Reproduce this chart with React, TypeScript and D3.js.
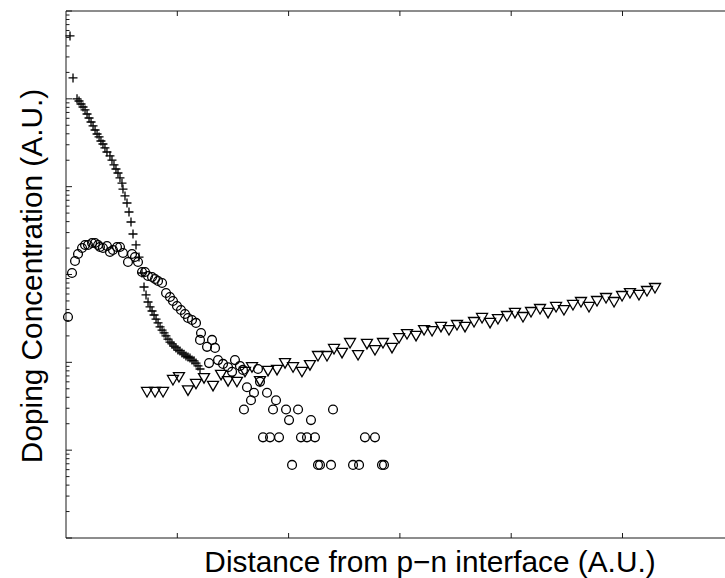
import React from "react";
import * as d3 from "d3";

const W = 725;
const H = 578;

// Series 1: "+" markers
const plusX = [0.036,0.063,0.099,0.117,0.135,0.153,0.171,0.189,0.207,0.225,0.243,0.261,0.279,0.297,0.314,0.332,0.350,0.368,0.395,0.413,0.431,0.449,0.467,0.485,0.503,0.512,0.530,0.548,0.566,0.584,0.602,0.629,0.656,0.683,0.701,0.719,0.737,0.755,0.773,0.791,0.809,0.827,0.845,0.863,0.881,0.898,0.916,0.934,0.952,0.970,0.988,1.006,1.024,1.042,1.060,1.078,1.096,1.114,1.132,1.150,1.168,1.186,1.204];
const plusY = [5.2e5,1.73e5,1.0e5,9.45e4,8.73e4,8.07e4,7.47e4,6.72e4,6.05e4,5.45e4,4.91e4,4.42e4,3.98e4,3.68e4,3.31e4,3.06e4,2.76e4,2.48e4,2.24e4,2.01e4,1.77e4,1.59e4,1.43e4,1.26e4,1.10e4,9400,7840,6520,5150,3960,2890,2170,1580,1040,721,585,486,427,384,346,311,281,253,233,216,200,184,170,162,153,146,138,135,128,124,118,115,112,106,104,98,91,84];

// Series 2: "o" markers
const circleX = [0.018,0.054,0.081,0.108,0.144,0.171,0.198,0.234,0.261,0.288,0.305,0.332,0.368,0.395,0.422,0.458,0.485,0.512,0.557,0.593,0.620,0.647,0.683,0.710,0.737,0.773,0.800,0.827,0.863,0.899,0.934,0.961,0.997,1.033,1.069,1.096,1.132,1.168,1.213,1.204,1.312,1.267,1.339,1.285,1.366,1.411,1.456,1.518,1.492,1.563,1.590,1.725,1.743,1.626,1.689,1.662,1.599,1.806,1.887,1.860,1.977,2.085,2.399,2.004,2.201,1.770,1.833,1.914,2.111,2.165,2.237,2.686,2.776,2.031,2.264,2.282,2.381,2.579,2.633,2.839,2.857];
const circleY = [328,1040,1425,1712,2004,2168,2168,2285,2285,2168,2057,2004,2113,1804,1901,2057,2057,1758,1387,1712,1583,1387,1069,1069,962,937,889,844,800,615,554,499,438,394,355,320,303,281,216,180,180,150,146,98,106,96,88,106,78,91,82,84,60,52,45,37,29,45,37,29,29,29,29,22,22,14,14,14,14,14,14,14,14,6.8,6.8,6.8,6.8,6.8,6.8,6.8,6.8];

// Series 3: "v" markers
const triX = [0.728,0.800,0.872,0.961,1.015,1.096,1.168,1.240,1.321,1.393,1.456,1.536,1.608,1.671,1.743,1.815,1.896,1.968,2.040,2.120,2.192,2.264,2.345,2.408,2.480,2.552,2.624,2.704,2.776,2.848,2.929,2.992,3.064,3.145,3.217,3.289,3.369,3.441,3.513,3.585,3.666,3.738,3.810,3.881,3.962,4.034,4.106,4.178,4.259,4.331,4.403,4.474,4.555,4.627,4.699,4.771,4.852,4.924,4.996,5.067,5.148,5.220,5.292];
const triY = [46,46,46,63,68,48,57,66,54,72,61,60,78,88,61,80,82,98,88,78,93,118,118,142,128,166,121,162,138,166,146,189,210,200,233,227,253,233,266,253,288,320,281,311,337,365,328,374,405,365,427,394,450,486,427,499,540,486,569,615,585,649,702];

const xLabel = "Distance from p\u2212n interface (A.U.)";
const yLabel = "Doping Concentration (A.U.)";

export default function App() {
  const left = 66, top = 11, bottom = 538;
  const x = d3.scaleLinear().domain([0, 6]).range([left, left + 6 * 111.3]);
  const y = d3.scaleLog().domain([1, 1e6]).range([bottom, top]);
  const right = W + 10;

  const xt = x.ticks(6).filter((t) => t > 0);
  const yt = y.ticks();
  const isMajor = (v: number) => Math.abs(Math.log10(v) - Math.round(Math.log10(v))) < 1e-9;

  const stroke = "#000";
  const sw = 1.3;

  return (
    <svg width={W} height={H} style={{ position: "absolute", left: 0, top: 0, background: "#fff" }}
      fontFamily="'Liberation Sans', Arial, sans-serif">
      <rect x={0} y={0} width={W} height={H} fill="#fff" />
      <line x1={left} y1={top} x2={right} y2={top} stroke="#1a1a1a" strokeWidth={1} />
      <line x1={left} y1={bottom} x2={right} y2={bottom} stroke="#1a1a1a" strokeWidth={1} />
      <line x1={left} y1={top} x2={left} y2={bottom} stroke="#1a1a1a" strokeWidth={1} />
      {xt.map((t) => (
        <g key={"xt" + t}>
          <line x1={x(t)} x2={x(t)} y1={bottom} y2={bottom - 5} stroke="#1a1a1a" />
          <line x1={x(t)} x2={x(t)} y1={top} y2={top + 5} stroke="#1a1a1a" />
        </g>
      ))}
      {yt.map((t, i) => (
        <line key={"yt" + i} x1={left} x2={left + (isMajor(t) ? 6 : 3.5)} y1={y(t)} y2={y(t)} stroke="#1a1a1a" />
      ))}
      {circleX.map((v, i) => (
        <circle key={"c" + i} cx={x(v)} cy={y(circleY[i])} r={4.4} fill="none" stroke={stroke} strokeWidth={sw} />
      ))}
      {plusX.map((v, i) => {
        const cx = x(v), cy = y(plusY[i]);
        return (
          <path key={"p" + i} d={`M${cx - 4.5},${cy}H${cx + 4.5}M${cx},${cy - 4.5}V${cy + 4.5}`} stroke={stroke} strokeWidth={sw} fill="none" />
        );
      })}
      {triX.map((v, i) => {
        const cx = x(v), cy = y(triY[i]);
        return (
          <path key={"t" + i} d={`M${cx - 5.5},${cy - 4.5}L${cx + 5.5},${cy - 4.5}L${cx},${cy + 5}Z`} stroke={stroke} strokeWidth={sw} fill="none" />
        );
      })}
      <text x={430} y={572} textAnchor="middle" fontSize={29.8} fill="#000">{xLabel}</text>
      <text transform={`translate(42,276) rotate(-90)`} textAnchor="middle" fontSize={29.8} fill="#000">{yLabel}</text>
    </svg>
  );
}
